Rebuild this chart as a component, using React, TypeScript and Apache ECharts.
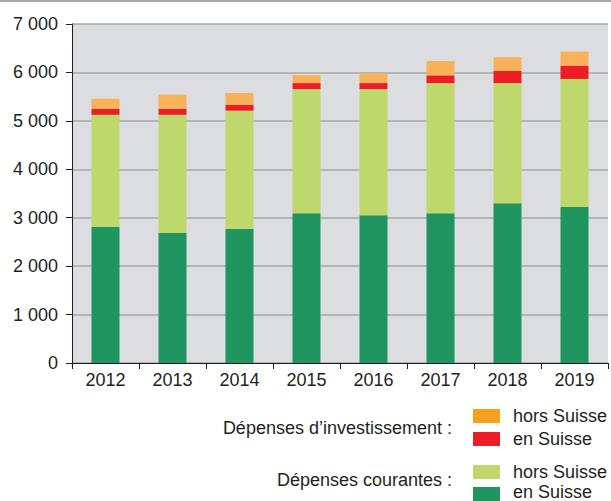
import React, { useEffect, useRef } from "react";
import * as echarts from "echarts";

const years = ["2012", "2013", "2014", "2015", "2016", "2017", "2018", "2019"];
const courantesEnSuisse = [2810, 2690, 2770, 3090, 3050, 3090, 3300, 3220];
const courantesHorsSuisse = [2315, 2435, 2440, 2565, 2605, 2690, 2480, 2645];
const investEnSuisse = [125, 125, 125, 125, 125, 160, 250, 275];
const investHorsSuisse = [205, 290, 240, 165, 205, 295, 285, 290];
const yMax = 7000;
const yStep = 1000;

const legendGroups = ["Dépenses d\u2019investissement :", "Dépenses courantes :"];
const legendItems = ["hors Suisse", "en Suisse", "hors Suisse", "en Suisse"];

const FONT = "'Liberation Sans', Arial, Helvetica, sans-serif";
const FS = 18;
const TXT = "#231f20";
const C_DARK = "#20955f";
const C_LIGHT = "#bed86c";
const C_RED = "#ee1d25";
const C_ORANGE_BAR = "#f9b25a";
const C_ORANGE_LEG = "#f7a11f";

export default function App() {
  const ref = useRef<HTMLDivElement>(null);
  useEffect(() => {
    if (!ref.current) return;
    const chart = echarts.init(ref.current, undefined, { renderer: "svg" });
    const mkSeries = (name: string, data: number[], color: string) => ({
      name,
      type: "bar",
      stack: "total",
      data,
      barWidth: 28,
      itemStyle: { color },
      emphasis: { disabled: true },
    });
    const legColors = [C_ORANGE_LEG, C_RED, C_LIGHT, C_DARK];
    const legY = [416, 439, 472, 492];
    const graphic: any[] = [
      {
        type: "rect",
        shape: { x: 0, y: 0, width: 611, height: 2 },
        style: { fill: "#a7a8aa" },
        silent: true,
      },
      {
        type: "text",
        x: 452,
        y: 428,
        style: { text: legendGroups[0], font: `${FS}px ${FONT}`, fill: TXT, align: "right", verticalAlign: "middle" },
      },
      {
        type: "text",
        x: 452,
        y: 480,
        style: { text: legendGroups[1], font: `${FS}px ${FONT}`, fill: TXT, align: "right", verticalAlign: "middle" },
      },
    ];
    legendItems.forEach((t, i) => {
      graphic.push({
        type: "rect",
        shape: { x: 473, y: (i === 3 ? 494 : legY[i]) - 7, width: 27, height: 14 },
        style: { fill: legColors[i] },
      });
      graphic.push({
        type: "text",
        x: 513,
        y: legY[i],
        style: { text: t, font: `${FS}px ${FONT}`, fill: TXT, align: "left", verticalAlign: "middle", lineHeight: 16 },
      });
    });
    chart.setOption({
      animation: false,
      textStyle: { fontFamily: FONT },
      grid: {
        left: 72,
        right: 3,
        top: 24,
        bottom: 138,
        show: true,
        backgroundColor: "#dcdde0",
        borderWidth: 0,
      },
      xAxis: {
        type: "category",
        data: years,
        axisLine: { lineStyle: { color: "#231f20", width: 1 } },
        axisTick: { show: true, length: 6, lineStyle: { color: "#231f20" } },
        axisLabel: { color: TXT, fontSize: FS, margin: 8, fontFamily: FONT },
      },
      yAxis: {
        type: "value",
        min: 0,
        max: yMax,
        interval: yStep,
        axisLine: { show: true, lineStyle: { color: "#231f20", width: 1 } },
        axisTick: { show: true, length: 6, lineStyle: { color: "#231f20" } },
        axisLabel: {
          color: TXT,
          fontSize: FS,
          margin: 14,
          fontFamily: FONT,
          formatter: (v: number) => String(v).replace(/\B(?=(\d{3})+(?!\d))/g, " "),
        },
        splitLine: { show: true, lineStyle: { color: "#a6a7a9", width: 1.5 } },
      },
      series: [
        mkSeries("Courantes en Suisse", courantesEnSuisse, C_DARK),
        mkSeries("Courantes hors Suisse", courantesHorsSuisse, C_LIGHT),
        mkSeries("Investissement en Suisse", investEnSuisse, C_RED),
        mkSeries("Investissement hors Suisse", investHorsSuisse, C_ORANGE_BAR),
      ],
      graphic,
    });
    return () => chart.dispose();
  }, []);
  return (
    <div
      ref={ref}
      style={{ position: "fixed", left: 0, top: 0, width: 611, height: 501, background: "#fff" }}
    />
  );
}
